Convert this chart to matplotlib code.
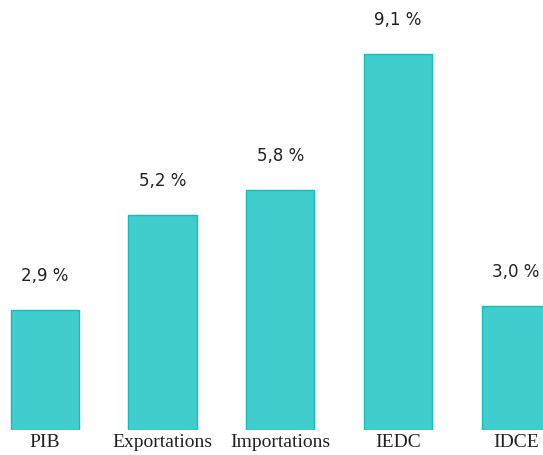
import matplotlib
matplotlib.use("Agg")
import matplotlib.pyplot as plt

# data
categories = ["PIB", "Exportations", "Importations", "IEDC", "IDCE"]
values = [2.9, 5.2, 5.8, 9.1, 3.0]
value_labels = ["2,9 %", "5,2 %", "5,8 %", "9,1 %", "3,0 %"]

fill_color = "#41CDCD"
edge_color = "#18BABA"

fig = plt.figure(figsize=(5.43, 4.55), dpi=100)
# axes spans full width, bottom at 25px
ax = fig.add_axes([0.0, 25 / 455, 1.0, 430 / 455])

x = list(range(len(categories)))
bars = ax.bar(x, values, width=0.58, color=fill_color, edgecolor=edge_color, linewidth=1.0)

for b, lab in zip(bars, value_labels):
    ax.annotate(lab, (b.get_x() + b.get_width() / 2, b.get_height()),
                xytext=(0, 18), textcoords="offset points",
                ha="center", va="bottom", fontsize=12,
                family="DejaVu Sans", color="#222222")

ax.set_xlim(-0.38, 4.23)
ax.set_ylim(0, 10.41)
ax.set_xticks(x)
ax.set_xticklabels(categories, family="Liberation Serif", fontsize=14, color="#222222")
ax.tick_params(axis="x", length=0, pad=3)
ax.set_yticks([])
for s in ax.spines.values():
    s.set_visible(False)

fig.savefig("out.png", dpi=100)
